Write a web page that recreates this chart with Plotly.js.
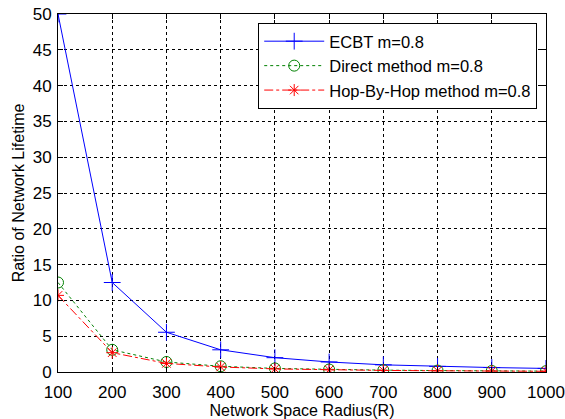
<!DOCTYPE html>
<html><head><meta charset="utf-8">
<script src="https://cdn.plot.ly/plotly-3.0.1.min.js"></script>
<style>body{margin:0;background:#fff}#c{width:565px;height:419px}</style>
</head><body><div id="c"></div>
<script>
const radius = [100,200,300,400,500,600,700,800,900,1000];
const ecbt = [50,12.5,5.55,3.1,2.0,1.4,1.0,0.78,0.62,0.5];
const direct = [12.5,3.1,1.4,0.8,0.5,0.35,0.26,0.2,0.15,0.12];
const hop = [10.7,2.7,1.2,0.7,0.43,0.3,0.22,0.17,0.13,0.1];
const names = ['ECBT m=0.8','Direct method m=0.8','Hop-By-Hop method m=0.8'];

const F = 'Liberation Sans, Arial';
const traces = [
 {x:radius,y:ecbt,name:names[0],mode:'lines+markers',line:{color:'#0000ff',width:1,dash:'solid'},marker:{symbol:'cross-thin-open',size:12,line:{color:'#0000ff',width:1}}},
 {x:radius,y:direct,name:names[1],mode:'lines+markers',line:{color:'#008000',width:1,dash:'dot'},marker:{symbol:'circle-open',size:11,color:'#008000',line:{color:'#008000',width:1}}},
 {x:radius,y:hop,name:names[2],mode:'lines+markers',line:{color:'#ff0000',width:1,dash:'dashdot'},marker:{symbol:'asterisk-open',size:10,line:{color:'#ff0000',width:1}}}
];
const ax = {showline:true,mirror:'ticks',linecolor:'#000',linewidth:1,ticks:'inside',ticklen:5,tickcolor:'#000',
  showgrid:true,gridcolor:'#000',griddash:'dot',gridwidth:1,zeroline:false,tickfont:{family:F,size:17,color:'#000'}};
const layout = {
 width:565,height:419,margin:{l:58,r:19,t:14,b:47},paper_bgcolor:'#fff',plot_bgcolor:'#fff',
 xaxis:Object.assign({},ax,{range:[100,1000],tickvals:radius,ticklabelstandoff:5,title:{text:'Network Space Radius(R)',font:{family:F,size:16,color:'#000'},standoff:0}}),
 yaxis:Object.assign({},ax,{range:[0,50],dtick:5,ticklabelstandoff:2,title:{text:'Ratio of Network Lifetime',font:{family:F,size:16,color:'#000'},standoff:4}}),
 legend:{x:0.982,xanchor:'right',y:0.975,yanchor:'top',bgcolor:'#fff',bordercolor:'#000',borderwidth:1,
   font:{family:F,size:16.5,color:'#000'},tracegroupgap:0,itemwidth:60},
 showlegend:true
};
Plotly.newPlot('c',traces,layout,{displayModeBar:false,staticPlot:true});
</script></body></html>
